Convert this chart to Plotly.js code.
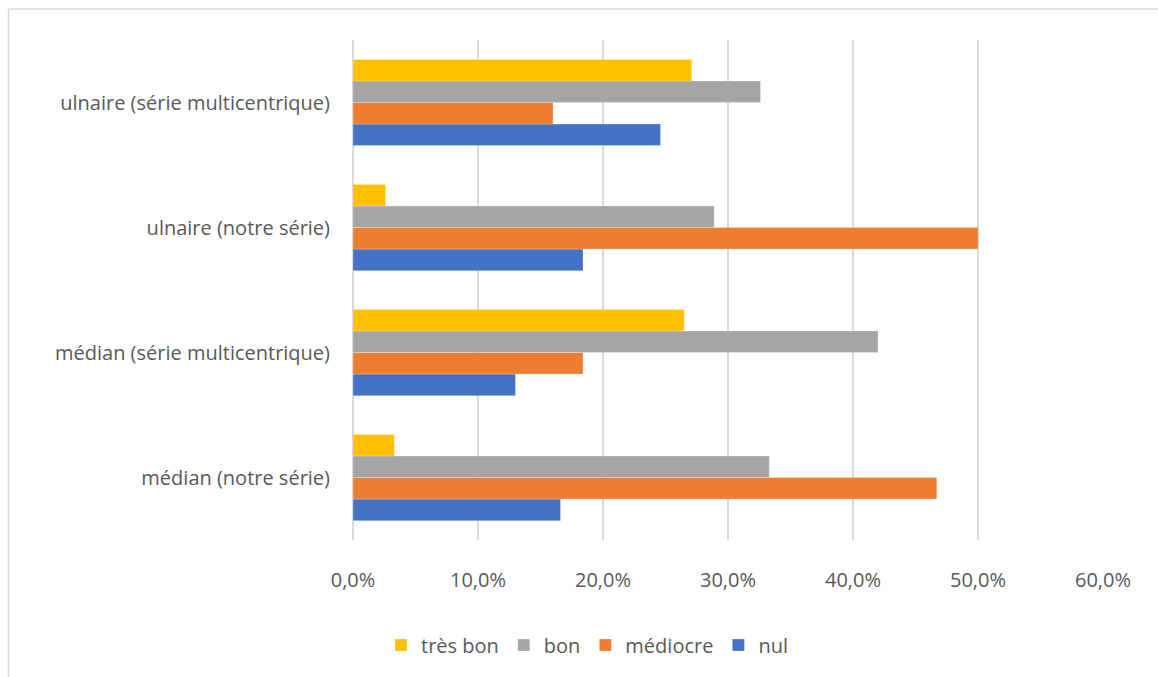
<!DOCTYPE html>
<html>
<head>
<meta charset="utf-8">
<script src="https://cdn.plot.ly/plotly-3.0.1.min.js"></script>
<style>html,body{margin:0;padding:0;background:#fff;}#chart{width:1158px;height:677px;}</style>
</head>
<body>
<div id="chart"></div>
<script>
const categories = ["médian (notre série)", "médian (série multicentrique)", "ulnaire (notre série)", "ulnaire (série multicentrique)"];
const seriesNames = ["nul", "médiocre", "bon", "très bon"];
const nul = [16.6, 13.0, 18.4, 24.6];
const mediocre = [46.7, 18.4, 50.0, 16.0];
const bon = [33.3, 42.0, 28.9, 32.6];
const tresBon = [3.3, 26.5, 2.6, 27.1];
const xTicks = [0, 10, 20, 30, 40, 50, 60];
const xTickLabels = ["0,0%", "10,0%", "20,0%", "30,0%", "40,0%", "50,0%", "60,0%"];

const colors = ["#4472C4", "#ED7D31", "#A5A5A5", "#FFC000"];
const values = [nul, mediocre, bon, tresBon];

const traces = values.map((v, i) => ({
  type: "bar",
  orientation: "h",
  name: seriesNames[i],
  y: categories,
  x: v,
  marker: {color: colors[i], line: {color: "rgba(255,255,255,0.35)", width: 0.7}},
  hoverinfo: "x+y+name"
}));

const fontFam = "'Open Sans', sans-serif";
const fs = 20;
const layout = {
  width: 1158,
  height: 677,
  margin: {l: 353, r: 55, t: 40, b: 137},
  paper_bgcolor: "#ffffff",
  plot_bgcolor: "#ffffff",
  barmode: "group",
  bargap: 0.31,
  bargroupgap: 0,
  font: {family: fontFam, size: fs, color: "#595959"},
  xaxis: {
    range: [0, 60],
    tickmode: "array",
    tickvals: xTicks,
    ticktext: xTickLabels,
    showgrid: true,
    gridcolor: "#d9d9d9",
    gridwidth: 1.5,
    zeroline: true,
    zerolinecolor: "#d9d9d9",
    zerolinewidth: 1.5,
    showline: false,
    ticks: "",
    ticklabelstandoff: 26,
    tickfont: {family: fontFam, size: fs, color: "#595959"},
    fixedrange: true
  },
  yaxis: {
    type: "category",
    showgrid: false,
    zeroline: false,
    showline: false,
    ticks: "",
    ticklabelstandoff: 22,
    tickfont: {family: fontFam, size: fs, color: "#595959"},
    fixedrange: true
  },
  legend: {
    orientation: "h",
    traceorder: "reversed",
    x: 0.312,
    xanchor: "center",
    y: -0.21,
    yanchor: "middle",
    font: {family: fontFam, size: fs, color: "#595959"},
    itemwidth: 30
  },
  showlegend: true,
  shapes: [
    {type: "line", xref: "paper", yref: "paper", x0: -0.4593, x1: 1.08, y0: 1.062, y1: 1.062, line: {color: "#d9d9d9", width: 1.5}},
    {type: "line", xref: "paper", yref: "paper", x0: -0.4593, x1: -0.4593, y0: 1.062, y1: -0.28, line: {color: "#d9d9d9", width: 1.5}}
  ]
};

Plotly.newPlot("chart", traces, layout, {displayModeBar: false, staticPlot: true});
</script>
</body>
</html>
